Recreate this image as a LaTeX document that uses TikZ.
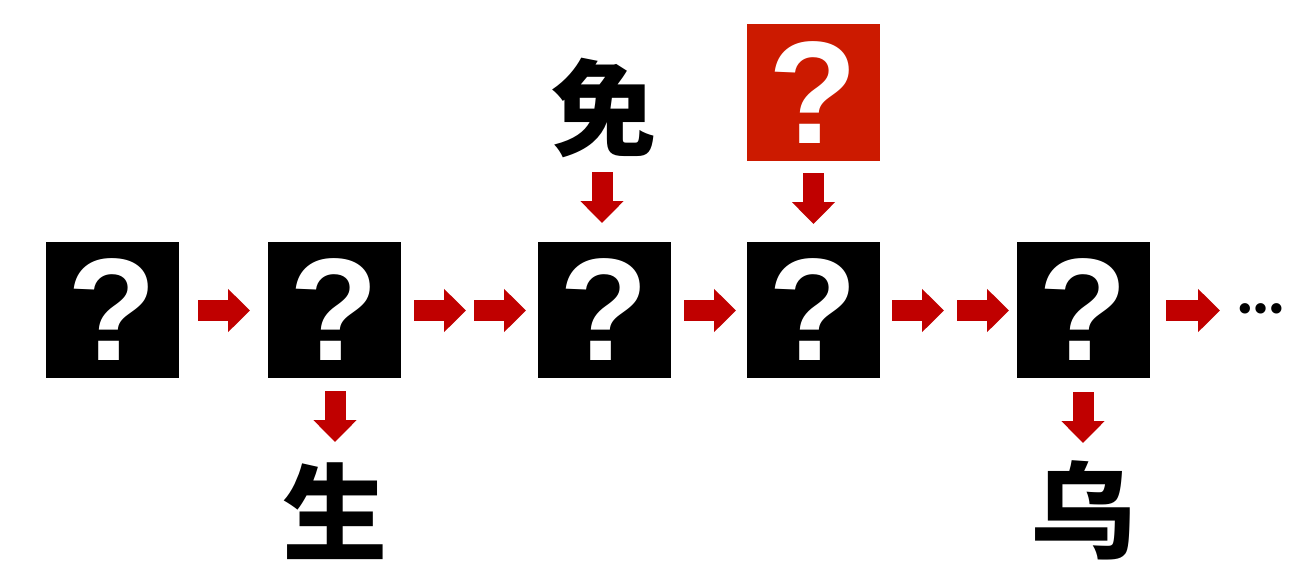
\documentclass[tikz,border=0pt]{standalone}
\usepackage{fontspec}
\setmainfont{Liberation Sans}
\newfontfamily\cjk{Noto Sans CJK SC}
\newfontfamily\roundfont{Poppins}
\usetikzlibrary{arrows.meta}
\definecolor{arrowred}{HTML}{C00000}
\definecolor{boxred}{HTML}{CC1A00}
\tikzset{
  qbox/.style={fill=black, minimum width=133pt, minimum height=136pt, inner sep=0pt,
    text=white, font=\fontsize{146}{146}\selectfont\bfseries},
  redbox/.style={qbox, fill=boxred, minimum height=137pt},
  flow/.style={draw=arrowred, line width=21pt,
    -{Triangle[length=22pt,width=42pt,fill=arrowred]}},
  char/.style={inner sep=0pt, font=\cjk\bfseries\fontsize{105}{105}\selectfont},
}
\begin{document}
\begin{tikzpicture}[x=1pt,y=-1pt]
\useasboundingbox (0,0) rectangle (1305,574);
% boxes
\node[qbox] (b1) at (112.5,310) {?};
\node[qbox] (b2) at (334.5,310) {?};
\node[qbox] (b3) at (604.5,310) {?};
\node[qbox] (b4) at (813.5,310) {?};
\node[qbox] (b5) at (1083.5,310) {?};
\node[redbox] (r) at (813.5,92.5) {?};
% characters
\node[char] (mian) at (603.5,107.5) {免};
\node[char] (sheng) at (334.5,511.5) {生};
\node[char] (wu) at (1082.5,510.5) {乌};
\node[inner sep=0pt, font=\roundfont\fontsize{84}{84}\selectfont] (dots) at (1261,309) {…};
% arrow end points
\coordinate (a1s) at (198,310.5); \coordinate (a1e) at (250,310.5);
\coordinate (a2s) at (414,310.5); \coordinate (a2e) at (466,310.5);
\coordinate (a3s) at (474,310.5); \coordinate (a3e) at (526,310.5);
\coordinate (a4s) at (684,310.5); \coordinate (a4e) at (736,310.5);
\coordinate (a5s) at (892,310.5); \coordinate (a5e) at (944,310.5);
\coordinate (a6s) at (957,310.5); \coordinate (a6e) at (1009,310.5);
\coordinate (a7s) at (1166,310.5); \coordinate (a7e) at (1220,310.5);
\coordinate (v1s) at (335,391); \coordinate (v1e) at (335,442);
\coordinate (v2s) at (602,172); \coordinate (v2e) at (602,223);
\coordinate (v3s) at (813.5,173); \coordinate (v3e) at (813.5,224);
\coordinate (v4s) at (1083,392); \coordinate (v4e) at (1083,443);
\foreach \s/\e in {a1s/a1e,a2s/a2e,a3s/a3e,a4s/a4e,a5s/a5e,a6s/a6e,a7s/a7e,v1s/v1e,v2s/v2e,v3s/v3e,v4s/v4e}
  \draw[flow] (\s) -- (\e);
\end{tikzpicture}
\end{document}
